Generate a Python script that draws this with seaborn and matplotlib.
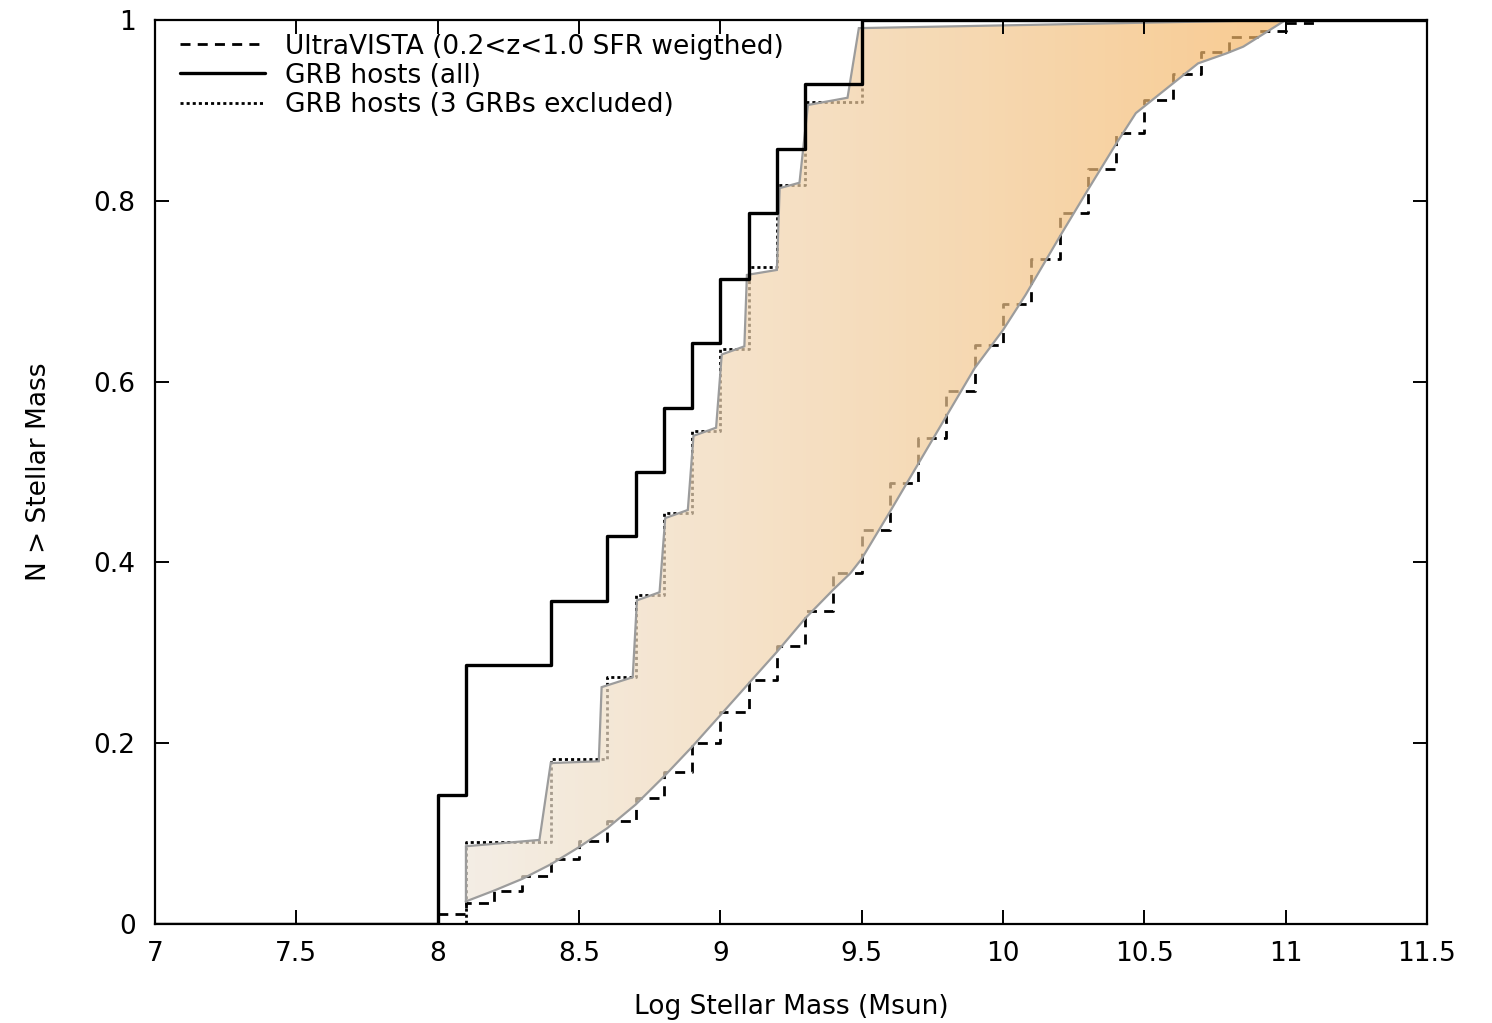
import numpy as np
import pandas as pd
import matplotlib
matplotlib.use("Agg")
import matplotlib.pyplot as plt
import seaborn as sns
from matplotlib.patches import Polygon

# ---------------- data ----------------
vista_x = [7.0, 8.0, 8.1, 8.2, 8.3, 8.4, 8.5, 8.6, 8.7, 8.8, 8.9, 9.0, 9.1, 9.2, 9.3,
           9.4, 9.5, 9.6, 9.7, 9.8, 9.9, 10.0, 10.1, 10.2, 10.3, 10.4, 10.5, 10.6,
           10.7, 10.8, 10.9, 11.0, 11.1, 11.5]
vista_y = [0.0, 0.011, 0.023, 0.0365, 0.053, 0.072, 0.092, 0.114, 0.139, 0.168, 0.200,
           0.235, 0.270, 0.3075, 0.346, 0.388, 0.436, 0.488, 0.538, 0.590, 0.640, 0.686,
           0.736, 0.7865, 0.835, 0.875, 0.9115, 0.940, 0.965, 0.981, 0.988, 0.997, 1.0, 1.0]

grb_all_x = [7.0, 8.0, 8.1, 8.4, 8.6, 8.7, 8.8, 8.9, 9.0, 9.1, 9.2, 9.3, 9.5, 11.5]
grb_all_y = [0.0, 0.143, 0.286, 0.357, 0.429, 0.500, 0.571, 0.643, 0.714, 0.786, 0.857,
             0.929, 1.0, 1.0]

grb_excl_x = [7.0, 8.1, 8.4, 8.6, 8.7, 8.8, 8.9, 9.0, 9.1, 9.2, 9.3, 9.5, 11.5]
grb_excl_y = [0.0, 0.091, 0.182, 0.273, 0.364, 0.455, 0.545, 0.636, 0.727, 0.818, 0.909,
              1.0, 1.0]

# shaded band: upper (GRB side) and lower (UltraVISTA side) boundaries
shade_top_x = [8.10, 8.10, 8.36, 8.40, 8.57, 8.58, 8.69, 8.705, 8.785, 8.805, 8.885,
               8.905, 8.985, 9.005, 9.085, 9.094, 9.20, 9.21, 9.28, 9.31, 9.45, 9.49, 11.0]
shade_top_y = [0.024, 0.086, 0.093, 0.178, 0.180, 0.262, 0.273, 0.358, 0.367, 0.449,
               0.458, 0.540, 0.549, 0.630, 0.639, 0.718, 0.7235, 0.814, 0.820, 0.906,
               0.914, 0.991, 1.0]
shade_low_x = [8.10, 8.20, 8.30, 8.40, 8.50, 8.60, 8.70, 8.80, 8.90, 9.00, 9.10, 9.20,
               9.30, 9.40, 9.46, 9.50, 9.60, 9.70, 9.80, 9.90, 10.00, 10.08, 10.20,
               10.30, 10.40, 10.47, 10.69, 10.79, 10.85, 11.00]
shade_low_y = [0.025, 0.037, 0.050, 0.066, 0.085, 0.106, 0.132, 0.163, 0.196, 0.231,
               0.266, 0.301, 0.338, 0.370, 0.388, 0.404, 0.456, 0.509, 0.562, 0.615,
               0.657, 0.696, 0.760, 0.812, 0.863, 0.897, 0.952, 0.963, 0.9705, 1.0]

x_ticks = [7, 7.5, 8, 8.5, 9, 9.5, 10, 10.5, 11, 11.5]
x_tick_labels = ["7", "7.5", "8", "8.5", "9", "9.5", "10", "10.5", "11", "11.5"]
y_ticks = [0, 0.2, 0.4, 0.6, 0.8, 1.0]
y_tick_labels = ["0", "0.2", "0.4", "0.6", "0.8", "1"]

series_labels = ["UltraVISTA (0.2<z<1.0 SFR weigthed)", "GRB hosts (all)",
                 "GRB hosts (3 GRBs excluded)"]

# ---------------- style ----------------
sns.set_style("ticks")
FS = 19
plt.rcParams.update({
    "font.family": ["DejaVu Sans"],
    "text.color": "black",
    "axes.labelcolor": "black",
    "axes.edgecolor": "black",
    "xtick.color": "black",
    "ytick.color": "black",
    "xtick.direction": "in",
    "ytick.direction": "in",
    "xtick.top": True,
    "ytick.right": True,
})

fig = plt.figure(figsize=(14.92, 10.23), dpi=100)
rect = [155 / 1492, 1 - 924 / 1023, (1427 - 155) / 1492, (924 - 20) / 1023]
ax = fig.add_axes(rect)

df_v = pd.DataFrame({"x": vista_x, "y": vista_y})
df_a = pd.DataFrame({"x": grb_all_x, "y": grb_all_y})
df_e = pd.DataFrame({"x": grb_excl_x, "y": grb_excl_y})

sns.lineplot(data=df_v, x="x", y="y", ax=ax, estimator=None, drawstyle="steps-post",
             color="black", linewidth=2.0, linestyle=(0, (3.6, 2.6)), zorder=2,
             label=series_labels[0])
sns.lineplot(data=df_e, x="x", y="y", ax=ax, estimator=None, drawstyle="steps-post",
             color="black", linewidth=2.0, linestyle=(0, (1.1, 1.1)), zorder=2,
             label=series_labels[2])
sns.lineplot(data=df_a, x="x", y="y", ax=ax, estimator=None, drawstyle="steps-post",
             color="black", linewidth=2.4, zorder=5, label=series_labels[1])

# gradient shading between the two boundaries
alpha = 0.7
left_rgb = np.array([0.955, 0.935, 0.905])
right_rgb = np.array([0.975, 0.795, 0.565])
left_c = (left_rgb - (1 - alpha)) / alpha
right_c = (right_rgb - (1 - alpha)) / alpha
t = np.linspace(0, 1, 256)[:, None]
cols = left_c + (right_c - left_c) * t
img = np.concatenate([cols, np.full((256, 1), alpha)], axis=1)[None, :, :]
im = ax.imshow(img, extent=[8.05, 11.05, 0, 1], aspect="auto", origin="lower",
               zorder=3)
poly_x = np.r_[shade_top_x, shade_low_x[::-1]]
poly_y = np.r_[shade_top_y, shade_low_y[::-1]]
poly = Polygon(np.column_stack([poly_x, poly_y]), closed=True, facecolor="none",
               edgecolor="#9c9c9c", linewidth=1.6, zorder=3.5)
ax.add_patch(poly)
im.set_clip_path(poly)

ax.set_xlim(7, 11.5)
ax.set_ylim(0, 1)

handles, labels = ax.get_legend_handles_labels()
hmap = dict(zip(labels, handles))
leg = ax.legend([hmap[l] for l in series_labels], series_labels, loc="upper left",
                bbox_to_anchor=(0.0197, 0.985), frameon=False, fontsize=FS,
                handlelength=3.2, handletextpad=0.76, labelspacing=0.12,
                borderpad=0, borderaxespad=0)
for txt in leg.get_texts():
    txt.set_color("black")
ax.axis("off")

# frame, ticks and axis labels on a clean transparent overlay axes
axf = fig.add_axes(rect, facecolor="none")
axf.set_zorder(ax.get_zorder() + 1)
axf.set_xlim(7, 11.5)
axf.set_ylim(0, 1)
axf.set_xticks(x_ticks)
axf.set_xticklabels(x_tick_labels)
axf.set_yticks(y_ticks)
axf.set_yticklabels(y_tick_labels)
axf.tick_params(axis="both", direction="in", length=10, width=1.2, bottom=True,
                top=True, left=True, right=True, colors="black", labelsize=FS)
axf.tick_params(axis="x", pad=12)
axf.tick_params(axis="y", pad=14)
for s in axf.spines.values():
    s.set_visible(True)
    s.set_linewidth(1.6)
    s.set_color("black")

# inward tick marks on every side, placed at the tick positions via axis transforms
tick_len_x = 13.9 / 904    # ~10 pt as a fraction of the axes height
tick_len_y = 13.9 / 1272   # ~10 pt as a fraction of the axes width
xtr = axf.get_xaxis_transform()
ytr = axf.get_yaxis_transform()
axf.vlines(x_ticks, 0, tick_len_x, transform=xtr, colors="black", linewidth=1.2,
           clip_on=False, zorder=7)
axf.vlines(x_ticks, 1 - tick_len_x, 1, transform=xtr, colors="black", linewidth=1.2,
           clip_on=False, zorder=7)
axf.hlines(y_ticks, 0, tick_len_y, transform=ytr, colors="black", linewidth=1.2,
           clip_on=False, zorder=7)
axf.hlines(y_ticks, 1 - tick_len_y, 1, transform=ytr, colors="black", linewidth=1.2,
           clip_on=False, zorder=7)
axf.set_xlim(7, 11.5)
axf.set_ylim(0, 1)

axf.set_xlabel("Log Stellar Mass (Msun)", fontsize=FS, labelpad=20, color="black")
axf.set_ylabel("N > Stellar Mass", fontsize=FS, labelpad=30, color="black")

fig.savefig("out.png", dpi=100)
